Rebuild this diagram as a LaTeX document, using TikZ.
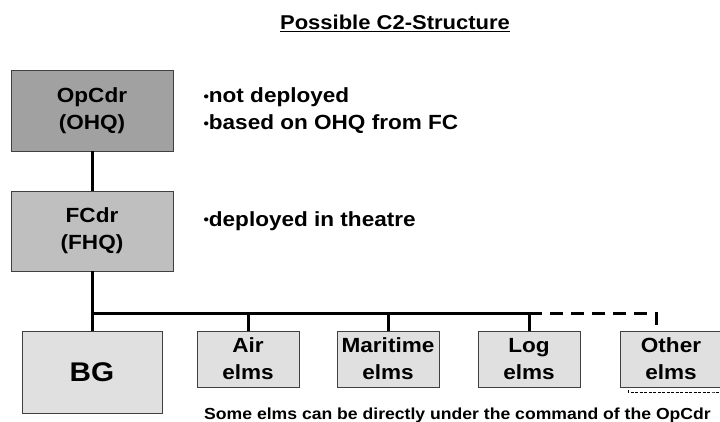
\documentclass[tikz,border=0pt]{standalone}
\usepackage{fontspec}
\setmainfont{Liberation Sans}[FakeStretch=1.1]
\usetikzlibrary{positioning}
\newcommand{\dotmark}{\raisebox{0.15ex}{\fontsize{14}{14}\selectfont•}}
\tikzset{every node/.style={font=\bfseries\fontsize{20.5}{27}\selectfont},
  unit/.style={draw=black!75, line width=0.8pt, fill=black!12,
    minimum width=102pt, minimum height=56pt, inner sep=0pt, align=center},
  hq/.style={unit, minimum width=162pt, minimum height=81pt},
  link/.style={line width=3pt}}

\begin{document}
\begin{tikzpicture}[x=1pt,y=1pt]
    \useasboundingbox (0,0) rectangle (720,-421);
    \node (title) at (395,-23) {\fontsize{20}{24}\selectfont\underline{Possible C2-Structure}};
    % headquarters
    \node[hq, fill=black!37] (opcdr) at (92,-110.5) {OpCdr\\(OHQ)};
    \node[hq, fill=black!25, minimum height=80pt] (fcdr) at (92,-231) {FCdr\\(FHQ)};
    \node[anchor=west, align=left] (notes) at (200,-111) {\dotmark not deployed\\\dotmark based on OHQ from FC};
    \node[anchor=west] (theatre) at (200,-221) {\dotmark deployed in theatre};
    % elements
    \node[unit, minimum width=140pt, minimum height=82pt] (bg) at (92,-372) {\fontsize{27}{30}\selectfont BG};
    \node[unit] (air) at (248,-359) {Air\\elms};
    \node[unit] (maritime) at (388,-359) {Maritime\\elms};
    \node[unit] (log) at (529,-359) {Log\\elms};
    \node[unit] (other) at (671,-359) {Other\\elms};
    \node[anchor=base] (remark) at (457.5,-419) {\fontsize{16}{19}\selectfont Some elms can be directly under the command of the OpCdr};
    % links
    \coordinate (bus) at (92,-313);
    \coordinate (tip) at (656,-328);
    \draw[link] (opcdr) -- (fcdr);
    \draw[link] (fcdr) -- (bg);
    \draw[link] (bus) -- (bus -| log);
    \foreach \e in {air, maritime, log} \draw[link] (\e.north) -- (\e.north |- bus);
    \draw[link, dash pattern=on 13pt off 8pt] (bus -| log) -- (bus -| tip) -- (tip);
    \coordinate (mark) at (628,-392);
    \draw[line width=0.6pt, dash pattern=on 3pt off 1.5pt] ([yshift=2pt]mark) -- (mark) -- (mark -| remark.east) -- ++(20,0);
\end{tikzpicture}
\end{document}
